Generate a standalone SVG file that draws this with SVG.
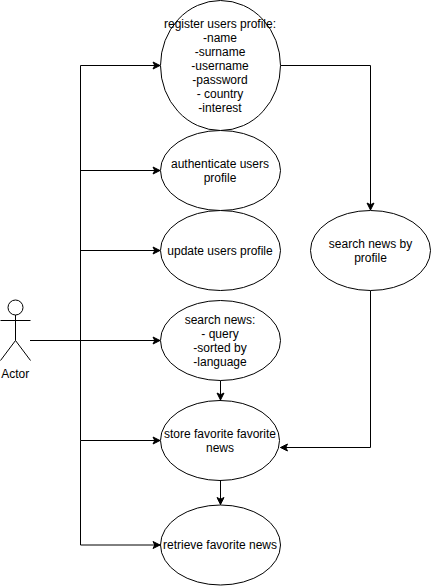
<svg xmlns="http://www.w3.org/2000/svg" width="431" height="586" viewBox="0 0 431 586">
<style>
.n{fill:#fff;stroke:#000;stroke-width:1}
.c{fill:none;stroke:#000;stroke-width:1}
text{font-family:"Liberation Sans",Arial,Helvetica,sans-serif;font-size:12px;fill:#000;text-anchor:middle}
</style>
<defs><marker id="a" markerUnits="userSpaceOnUse" markerWidth="10" markerHeight="10" refX="7.500" refY="4.500" orient="auto" overflow="visible"><path d="M0.500 1 L7.500 4.500 L0.500 8 L2.250 4.500 Z" fill="#000" stroke="#000"/></marker></defs>
<g id="connectors">
<path class="c" d="M30 340.500H160" marker-end="url(#a)"/>
<path class="c" d="M80.500 340.500V65.500H160" marker-end="url(#a)"/>
<path class="c" d="M80.500 170.500H160" marker-end="url(#a)"/>
<path class="c" d="M80.500 250.500H160" marker-end="url(#a)"/>
<path class="c" d="M80.500 340.500V440.500H160" marker-end="url(#a)"/>
<path class="c" d="M80.500 440.500V545H160" marker-end="url(#a)"/>
<path class="c" d="M280.500 65.500H370.500V210" marker-end="url(#a)"/>
<path class="c" d="M370.500 290.500V447.500H280.500" marker-end="url(#a)"/>
<path class="c" d="M220.500 380.500V400" marker-end="url(#a)"/>
<path class="c" d="M220.500 480.500V504.500" marker-end="url(#a)"/>
</g>
<g id="actor">
<circle class="n" cx="15.500" cy="307.500" r="7.500"/>
<path class="c" d="M15.500 315V340.500M0.500 320.500H30.500M15.500 340.500L0.500 360.500M15.500 340.500L30.500 360.500"/>
<text x="15.300" y="378">Actor</text>
</g>
<g id="register">
<ellipse class="n" cx="220.500" cy="65.500" rx="60" ry="65"/>
<text x="220" y="28">register users profile:</text>
<text x="220" y="42">-name</text>
<text x="220" y="56">-surname</text>
<text x="220" y="70">-username</text>
<text x="220" y="84">-password</text>
<text x="220" y="98">- country</text>
<text x="220" y="112">-interest</text>
</g>
<g id="authenticate">
<ellipse class="n" cx="220.500" cy="170.500" rx="60" ry="40"/>
<text x="220" y="168">authenticate users</text>
<text x="220" y="182">profile</text>
</g>
<g id="update">
<ellipse class="n" cx="220.500" cy="250.500" rx="60" ry="40"/>
<text x="220" y="255">update users profile</text>
</g>
<g id="searchprofile">
<ellipse class="n" cx="370.500" cy="250.500" rx="60" ry="40"/>
<text x="370.500" y="248">search news by</text>
<text x="370.500" y="262">profile</text>
</g>
<g id="search">
<ellipse class="n" cx="220.500" cy="340.500" rx="60" ry="40"/>
<text x="220" y="324">search news:</text>
<text x="220" y="338">- query</text>
<text x="220" y="352">-sorted by</text>
<text x="220" y="366">-language</text>
</g>
<g id="store">
<ellipse class="n" cx="220" cy="440.500" rx="59.500" ry="40"/>
<text x="220" y="438">store favorite favorite</text>
<text x="220" y="452">news</text>
</g>
<g id="retrieve">
<ellipse class="n" cx="220.500" cy="545" rx="60" ry="40"/>
<text x="220" y="549">retrieve favorite news</text>
</g>
</svg>
